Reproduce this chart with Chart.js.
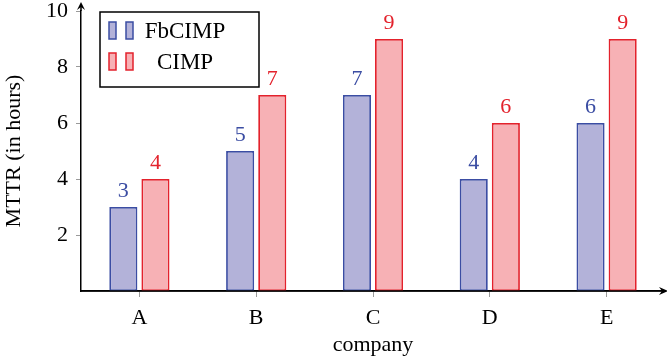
<!DOCTYPE html>
<html>
<head>
<meta charset="utf-8">
<script src="https://cdn.jsdelivr.net/npm/chart.js@4/dist/chart.umd.min.js"></script>
<style>
html,body{margin:0;padding:0;background:#fff;}
#wrap{width:667px;height:359px;}
</style>
</head>
<body>
<div id="wrap"><canvas id="chart"></canvas></div>
<script>
// data
const companies = ['A','B','C','D','E'];
const fbcimp = [3,5,7,4,6];
const cimp = [4,7,9,6,9];
const yTicks = [2,4,6,8,10];

const SERIF = '"Liberation Serif", "DejaVu Serif", serif';
const blueLine = '#3b4da3';
const blueFill = '#b3b2d9';
const redLine = '#e3222c';
const redFill = '#f7b1b5';

// labels above bars
const valueLabels = {
id:'valueLabels',
afterDatasetsDraw(chart)
{
const c = chart.ctx;
c.save();
c.font = '22px ' + SERIF;
c.textAlign = 'center';
c.textBaseline = 'bottom';
chart.data.datasets.forEach((ds,i)=>{
const meta = chart.getDatasetMeta(i);
c.fillStyle = ds.borderColor;
meta.data.forEach((bar,j)=>{
c.fillText(ds.data[j], bar.x, bar.y - 5);
});
});
c.restore();
}
};

// axis line on top, arrows + legend box
const decor = {
id:'decor',
afterDraw(chart)
{
const c = chart.ctx;
const a = chart.chartArea;
c.save();
c.strokeStyle = '#000';
c.fillStyle = '#000';
c.lineWidth = 1.5;
// baseline over the bars
c.beginPath();
c.moveTo(a.left, a.bottom);
c.lineTo(a.right - 3, a.bottom);
c.stroke();
// y axis arrow
c.beginPath();
c.moveTo(a.left, a.top);
c.lineTo(a.left, a.top - 5);
c.stroke();
c.beginPath();
c.moveTo(a.left, a.top - 9);
c.lineTo(a.left - 4, a.top - 1);
c.lineTo(a.left, a.top - 4);
c.lineTo(a.left + 4, a.top - 1);
c.closePath();
c.fill();
// x axis arrow
c.beginPath();
c.moveTo(a.right + 3, a.bottom);
c.lineTo(a.right - 6, a.bottom - 4);
c.lineTo(a.right - 3, a.bottom);
c.lineTo(a.right - 6, a.bottom + 4);
c.closePath();
c.fill();

// legend
c.fillStyle = '#fff';
c.fillRect(100, 12, 159, 75);
c.lineWidth = 1.5;
c.strokeRect(100, 12, 159, 75);
const rows = [31, 62];
chart.data.datasets.forEach((ds,i)=>{
const cy = rows[i];
[109,126].forEach(x=>{
c.fillStyle = ds.backgroundColor;
c.fillRect(x, cy - 9, 7, 17);
c.strokeStyle = ds.borderColor;
c.lineWidth = 1.5;
c.strokeRect(x, cy - 9, 7, 17);
});
c.fillStyle = '#000';
c.font = '23px ' + SERIF;
c.textAlign = 'center';
c.textBaseline = 'middle';
c.fillText(ds.label, 185, cy + 1);
});
c.restore();
}
};

const ctx = document.getElementById('chart').getContext('2d');

const chart = new Chart(ctx,{
type:'bar',
data:{
labels:companies,
datasets:[{
label:'FbCIMP',
data:fbcimp,
backgroundColor:blueFill,
borderColor:blueLine,
borderWidth:1.8,
borderSkipped:false
},{
label:'CIMP',
data:cimp,
backgroundColor:redFill,
borderColor:redLine,
borderWidth:1.8,
borderSkipped:false
}]
},
options:{
responsive:true,
maintainAspectRatio:false,
animation:false,
categoryPercentage:0.55,
barPercentage:0.875,
layout:{padding:{top:11,right:2,left:0,bottom:0}},
plugins:{
legend:{display:false},
tooltip:{enabled:false}
},
scales:{
x:{
offset:true,
afterFit:s=>{s.height = 68;},
grid:{display:true,drawOnChartArea:false,tickLength:6,color:'#9a9a9a',offset:false},
border:{display:true,color:'#000',width:1.5},
ticks:{color:'#000',font:{family:SERIF,size:22},padding:8},
title:{display:true,text:'company',color:'#000',font:{family:SERIF,size:22},padding:{top:0,bottom:1}}
},
y:{
min:0,
max:10,
afterFit:s=>{s.width = 81; s.paddingTop = 0; s.paddingBottom = 0;},
afterBuildTicks:s=>{s.ticks = yTicks.map(v=>({value:v}));},
grid:{display:true,drawOnChartArea:false,tickLength:5,color:'#9a9a9a'},
border:{display:true,color:'#000',width:1.5},
ticks:{color:'#000',font:{family:SERIF,size:22},padding:8},
title:{display:true,text:'MTTR (in hours)',color:'#000',font:{family:SERIF,size:22},padding:{top:1,bottom:0}}
}
}
},
plugins:[valueLabels,decor]
});
</script>
</body>
</html>
